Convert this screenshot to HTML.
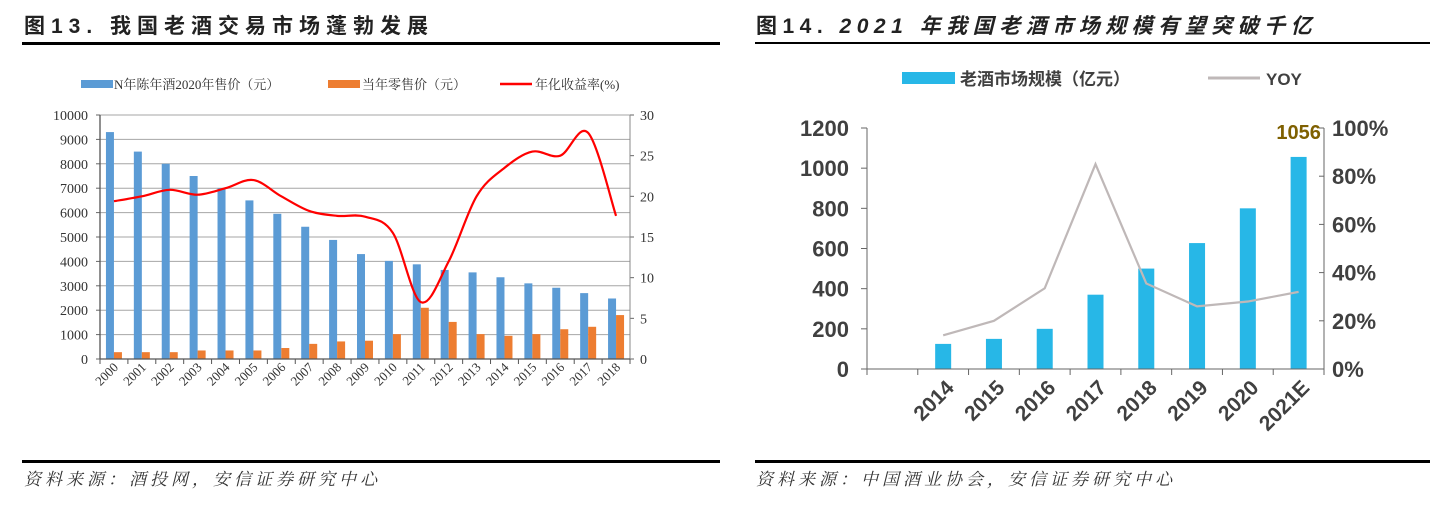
<!DOCTYPE html>
<html><head><meta charset="utf-8">
<style>
body{margin:0;background:#fff;width:1443px;height:506px;overflow:hidden;font-family:"Liberation Sans","Noto Sans CJK SC",sans-serif;}
svg{position:absolute;left:0;top:0}
</style></head>
<body>
<svg width="1443" height="506" xmlns="http://www.w3.org/2000/svg" id="svg">
<g>
<text x="24" y="33" font-size="21" font-weight="bold" letter-spacing="6" fill="#222" font-family="Liberation Sans,Noto Sans CJK SC,sans-serif">图13. 我国老酒交易市场蓬勃发展</text>
<rect x="22" y="42" width="698" height="3" fill="#000"/>
</g>
<g>
<text x="756" y="33" font-size="21" font-weight="bold" letter-spacing="5.5" fill="#222" font-family="Liberation Sans,Noto Sans CJK SC,sans-serif">图14. <tspan font-style="italic">2021 年我国老酒市场规模有望突破千亿</tspan></text>
<rect x="755" y="42" width="675" height="2" fill="#000"/>
</g>
<rect x="22" y="460" width="698" height="3" fill="#000"/>
<rect x="755" y="460" width="675" height="3" fill="#000"/>
<text x="24" y="485" font-size="17" letter-spacing="4" font-style="italic" fill="#333" font-family="Liberation Serif,Noto Serif CJK SC,serif">资料来源：酒投网，安信证券研究中心</text>
<text x="756" y="485" font-size="17" letter-spacing="4" font-style="italic" fill="#333" font-family="Liberation Serif,Noto Serif CJK SC,serif">资料来源：中国酒业协会，安信证券研究中心</text>

<g id="c1"></g>
<g id="c2"></g>
</svg>
<script>
const years1 = ["2000","2001","2002","2003","2004","2005","2006","2007","2008","2009","2010","2011","2012","2013","2014","2015","2016","2017","2018"];
const price2020 = [9300,8500,8000,7500,7000,6500,5950,5420,4880,4300,4020,3880,3650,3550,3350,3100,2920,2700,2480];
const retail = [280,280,280,350,350,350,450,620,720,750,1020,2100,1520,1020,950,1020,1220,1320,1800];
const annualReturn = [19.4,20.0,20.8,20.2,21.0,22.0,20.0,18.2,17.6,17.5,15.5,7.0,12.0,20.0,23.5,25.5,25.0,27.8,17.6];
const leftTicks = [0,1000,2000,3000,4000,5000,6000,7000,8000,9000,10000];
const rightTicks1 = [0,5,10,15,20,25,30];

const years2 = ["","2014","2015","2016","2017","2018","2019","2020","2021E"];
const marketSize = [null,125,150,200,370,500,627,800,1056];
const yoy = [null,14,20,33.5,85,35.5,26,28,32];
const leftTicks2 = [0,200,400,600,800,1000,1200];
const rightTicks2 = [0,20,40,60,80,100];

const NS="http://www.w3.org/2000/svg";
function mk(parent,tag,attrs,text){const e=document.createElementNS(NS,tag);for(const k in attrs)e.setAttribute(k,attrs[k]);if(text!==undefined)e.textContent=text;parent.appendChild(e);return e;}

// ---------- chart 1 ----------
(function(){
const g=document.getElementById('c1');
const L=100,R=630,T=115,B=359;
const y=v=>B-(v/10000)*(B-T);
const y2=v=>B-(v/30)*(B-T);
const bw=(R-L)/years1.length;
const serif="Liberation Serif,Noto Serif CJK SC,serif";
leftTicks.forEach(t=>{
  if(t>0){const l=mk(g,'line',{x1:L,x2:R,y1:y(t),y2:y(t),stroke:'#a6a6a6','stroke-width':1});
  
  }
  const tx=mk(g,'text',{x:L-12,y:y(t)+5,'text-anchor':'end','font-size':14,fill:'#333','font-family':serif},String(t));
  
  
  mk(g,'line',{x1:L-4,x2:L,y1:y(t),y2:y(t),stroke:'#666'});
});
rightTicks1.forEach(t=>{
  const tx=mk(g,'text',{x:R+10,y:y2(t)+5,'font-size':14,fill:'#333','font-family':serif},String(t));
  
  
  mk(g,'line',{x1:R,x2:R+4,y1:y2(t),y2:y2(t),stroke:'#666'});
});
years1.forEach((yr,i)=>{
  const x0=L+i*bw;
  const b=mk(g,'rect',{x:x0+bw/2-8,y:y(price2020[i]),width:8,height:B-y(price2020[i]),fill:'#5b9bd5'});
  
  
  const o=mk(g,'rect',{x:x0+bw/2,y:y(retail[i]),width:8,height:B-y(retail[i]),fill:'#ed7d31'});
  
  
  mk(g,'line',{x1:x0,x2:x0,y1:B,y2:B+5,stroke:'#555'});
  const cx=x0+bw/2+5, cy=B+9;
  const t=mk(g,'text',{x:cx,y:cy,'text-anchor':'end','font-size':13,fill:'#333','font-family':serif,transform:`rotate(-45 ${cx} ${cy})`},yr);
  
  
});
mk(g,'line',{x1:R,x2:R,y1:B,y2:B+5,stroke:'#555'});
mk(g,'line',{x1:L,x2:L,y1:T,y2:B,stroke:'#555','stroke-width':1.3});
mk(g,'line',{x1:R,x2:R,y1:T,y2:B,stroke:'#888'});
mk(g,'line',{x1:L,x2:R,y1:B,y2:B,stroke:'#555','stroke-width':1.3});
const pts=annualReturn.map((v,i)=>[L+(i+0.5)*bw,y2(v)]);
let d=`M${pts[0][0]},${pts[0][1]}`;
for(let i=0;i<pts.length-1;i++){
  const p0=pts[Math.max(0,i-1)],p1=pts[i],p2=pts[i+1],p3=pts[Math.min(pts.length-1,i+2)];
  const c1=[p1[0]+(p2[0]-p0[0])/6,p1[1]+(p2[1]-p0[1])/6];
  const c2=[p2[0]-(p3[0]-p1[0])/6,p2[1]-(p3[1]-p1[1])/6];
  d+=` C${c1[0]},${c1[1]} ${c2[0]},${c2[1]} ${p2[0]},${p2[1]}`;
}
const ln=mk(g,'path',{d:d,fill:'none',stroke:'#ff0000','stroke-width':2.2});


const lg=mk(g,'g',{});


mk(lg,'rect',{x:81,y:80,width:32,height:8,fill:'#5b9bd5'});
const l1=mk(lg,'text',{x:114,y:89,'font-size':13,fill:'#333','font-family':serif},'N年陈年酒2020年售价（元）');


mk(lg,'rect',{x:328,y:80,width:32,height:8,fill:'#ed7d31'});
const l2=mk(lg,'text',{x:362,y:89,'font-size':13,fill:'#333','font-family':serif},'当年零售价（元）');


mk(lg,'line',{x1:500,x2:532,y1:84,y2:84,stroke:'#ff0000','stroke-width':2.5});
const l3=mk(lg,'text',{x:535,y:89,'font-size':13,fill:'#333','font-family':serif},'年化收益率(%)');


})();

// ---------- chart 2 ----------
(function(){
const g=document.getElementById('c2');
const L=867,R=1324,T=128,B=369;
const y=v=>B-(v/1200)*(B-T);
const y2=v=>B-(v/100)*(B-T);
const bw=(R-L)/years2.length;
const font="Liberation Sans Narrow,Liberation Sans,sans-serif";
leftTicks2.forEach(t=>{
  const tx=mk(g,'text',{x:L-18,y:y(t)+8,'text-anchor':'end','font-size':22,'font-weight':'bold',fill:'#404040','font-family':font},String(t));
  
  
  mk(g,'line',{x1:L-6,x2:L,y1:y(t),y2:y(t),stroke:'#666'});
});
rightTicks2.forEach(t=>{
  const tx=mk(g,'text',{x:R+8,y:y2(t)+8,'font-size':22,'font-weight':'bold',fill:'#404040','font-family':font},t+'%');
  
  
  mk(g,'line',{x1:R-5,x2:R,y1:y2(t),y2:y2(t),stroke:'#666'});
});
for(let i=0;i<=years2.length;i++){mk(g,'line',{x1:L+i*bw,x2:L+i*bw,y1:B,y2:B+6,stroke:'#666'});}
years2.forEach((yr,i)=>{
  const cx=L+(i+0.5)*bw;
  if(marketSize[i]!==null){
    const b=mk(g,'rect',{x:cx-8,y:y(marketSize[i]),width:16,height:B-y(marketSize[i]),fill:'#27b7e7'});
    
    
  }
  if(yr){
    const ax=cx+12, ay=B+20;
    const t=mk(g,'text',{x:ax,y:ay,'text-anchor':'end','font-size':21,'font-weight':'bold',fill:'#404040','font-family':font,transform:`rotate(-45 ${ax} ${ay})`},yr);
    
    
  }
});
mk(g,'line',{x1:L,x2:L,y1:T,y2:B,stroke:'#666'});
mk(g,'line',{x1:R,x2:R,y1:T,y2:B,stroke:'#666'});
mk(g,'line',{x1:L,x2:R,y1:B,y2:B,stroke:'#666'});
const pts=[];yoy.forEach((v,i)=>{if(v!==null)pts.push((L+(i+0.5)*bw)+','+y2(v));});
const pl=mk(g,'polyline',{points:pts.join(' '),fill:'none',stroke:'#bfb8b8','stroke-width':2.2});


const last=marketSize.length-1;
const lab=mk(g,'text',{x:L+(last+0.5)*bw,y:y(marketSize[last])-18,'text-anchor':'middle','font-size':20,'font-weight':'bold',fill:'#7f6000','font-family':font},String(marketSize[last]));


const lg=mk(g,'g',{});


mk(lg,'rect',{x:902,y:72,width:53,height:12,fill:'#27b7e7'});
const l1=mk(lg,'text',{x:960,y:85,'font-size':17,'font-weight':'bold',fill:'#404040','font-family':'Liberation Sans,Noto Sans CJK SC,sans-serif'},'老酒市场规模（亿元）');


mk(lg,'line',{x1:1208,x2:1260,y1:78,y2:78,stroke:'#bfb8b8','stroke-width':3});
const l2=mk(lg,'text',{x:1266,y:85,'font-size':17,'font-weight':'bold',fill:'#404040','font-family':font},'YOY');


})();
</script>
</body></html>
